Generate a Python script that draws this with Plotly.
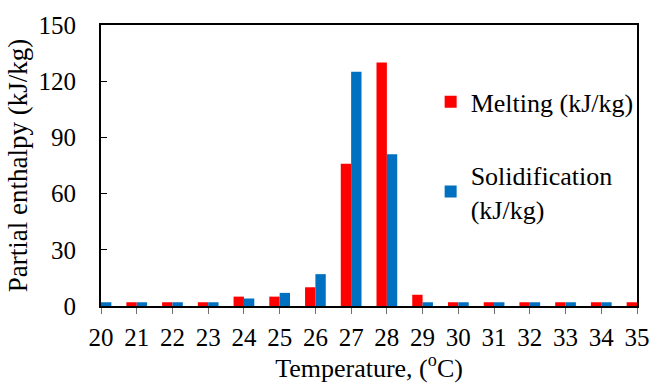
import plotly.graph_objects as go

temperature = list(range(20, 36))
melting = [2, 2, 2, 2, 5, 5, 10, 76, 130, 6, 2, 2, 2, 2, 2, 2]
solidification = [2, 2, 2, 2, 4, 7, 17, 125, 81, 2, 2, 2, 2, 2, 2, 2]
y_ticks = [0, 30, 60, 90, 120, 150]

font = "Liberation Serif, Times New Roman, serif"

fig = go.Figure()
fig.add_trace(go.Bar(x=temperature, y=melting, name="Melting (kJ/kg)",
                     marker=dict(color="#FF0000", line=dict(width=0)),
                     legendgroup="m"))
fig.add_trace(go.Bar(x=temperature, y=solidification, name="Solidification<br>(kJ/kg)",
                     marker=dict(color="#0070C0", line=dict(width=0)),
                     legendgroup="s"))

fig.update_layout(
    width=662, height=383,
    margin=dict(l=101, r=14, t=23, b=77),
    paper_bgcolor="white", plot_bgcolor="white",
    barmode="group", bargap=0.42, bargroupgap=0,
    font=dict(family=font, size=25, color="black"),
    showlegend=True,
    legend=dict(x=0.615, y=0.81, xanchor="left", yanchor="top",
                bgcolor="rgba(0,0,0,0)", font=dict(size=26, family=font, color="black"),
                tracegroupgap=36, itemwidth=30),
)
fig.update_xaxes(
    range=[20, 35], tickmode="array", tickvals=temperature,
    ticktext=[str(t) for t in temperature],
    showline=True, linecolor="black", linewidth=2, mirror=True,
    ticks="outside", ticklen=6, tickcolor="#707070", tickwidth=1,
    ticklabelstandoff=2,
    showgrid=False, zeroline=False,
    tickfont=dict(size=25, family=font, color="black"),
    title=dict(text="Temperature, (<sup>o</sup>C)", font=dict(size=26, family=font, color="black"), standoff=2),
)
fig.update_yaxes(
    range=[0, 150], tickmode="array", tickvals=y_ticks,
    showline=True, linecolor="black", linewidth=2, mirror=True,
    ticks="inside", ticklen=6, tickcolor="black", tickwidth=1,
    ticklabelstandoff=18,
    showgrid=False, zeroline=False,
    tickfont=dict(size=25, family=font, color="black"),
    title=dict(text="Partial enthalpy (kJ/kg)", font=dict(size=27, family=font, color="black"), standoff=3),
)

fig.write_html("out.html")
